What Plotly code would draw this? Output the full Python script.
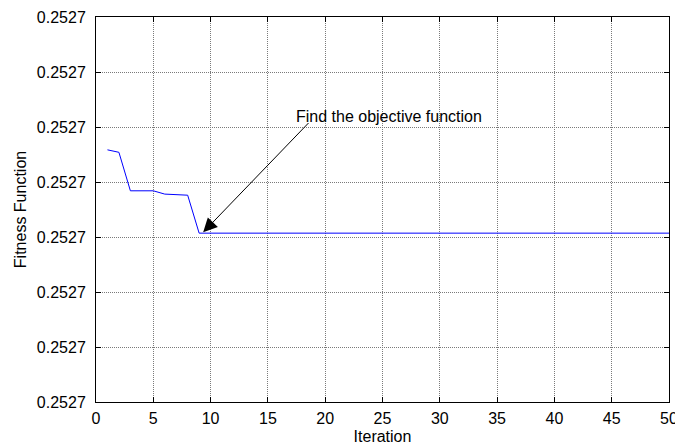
import plotly.graph_objects as go

# Data (y offsets read relative to 0.2527 in units of 1e-9)
iterations = list(range(1, 51))
base = 0.2527
unit = 1e-9
fitness_units = [4.585, 4.54, 3.84, 3.84, 3.84, 3.78, 3.775, 3.76] + [3.07] * 42
fitness = [base + v * unit for v in fitness_units]

x_ticks = list(range(0, 51, 5))
y_ticks = [base + k * unit for k in range(8)]
y_tick_labels = ["0.2527"] * 8

annot_text = "Find the objective function"
arrow_head = (9.35, base + 3.085 * unit)
arrow_tail = (18.67, base + 5.10 * unit)
text_pos = (17.25, base + 5.19 * unit)

font = dict(family="Liberation Sans, Arial, sans-serif", size=16, color="black")

fig = go.Figure()
fig.add_trace(go.Scatter(x=iterations, y=fitness, mode="lines",
                         line=dict(color="#0000ff", width=1), showlegend=False))

fig.add_annotation(x=text_pos[0], y=text_pos[1], xref="x", yref="y",
                   text=annot_text, showarrow=False, xanchor="left", yanchor="middle",
                   font=font)
fig.add_annotation(x=arrow_head[0], y=arrow_head[1], xref="x", yref="y",
                   ax=arrow_tail[0], ay=arrow_tail[1], axref="x", ayref="y",
                   text="", showarrow=True, arrowhead=2, arrowsize=2.8, arrowwidth=1,
                   arrowcolor="black", standoff=0)

axis_common = dict(showline=True, linecolor="black", linewidth=1, mirror="ticks",
                   ticks="inside", ticklen=5, tickcolor="black",
                   showgrid=True, gridcolor="#7a7a7a", griddash="1px,1px", gridwidth=1,
                   zeroline=False, tickfont=font, automargin=False,
                   ticklabeloverflow="allow")

fig.update_xaxes(range=[0, 50], tickmode="array", tickvals=x_ticks, ticklabelstandoff=2,
                 title=dict(text="Iteration", font=font, standoff=4), **axis_common)
fig.update_yaxes(range=[base, base + 7 * unit], tickmode="array", tickvals=y_ticks,
                 ticktext=y_tick_labels, ticklabelstandoff=6,
                 title=dict(text="Fitness Function", font=font, standoff=6), **axis_common)

fig.update_layout(width=675, height=446, margin=dict(l=96, r=6, t=17, b=44),
                  paper_bgcolor="white", plot_bgcolor="white", font=font)

fig.write_html("out.html", config={"displayModeBar": False},
               post_script="document.body.style.margin='0';document.body.style.overflow='hidden';")
